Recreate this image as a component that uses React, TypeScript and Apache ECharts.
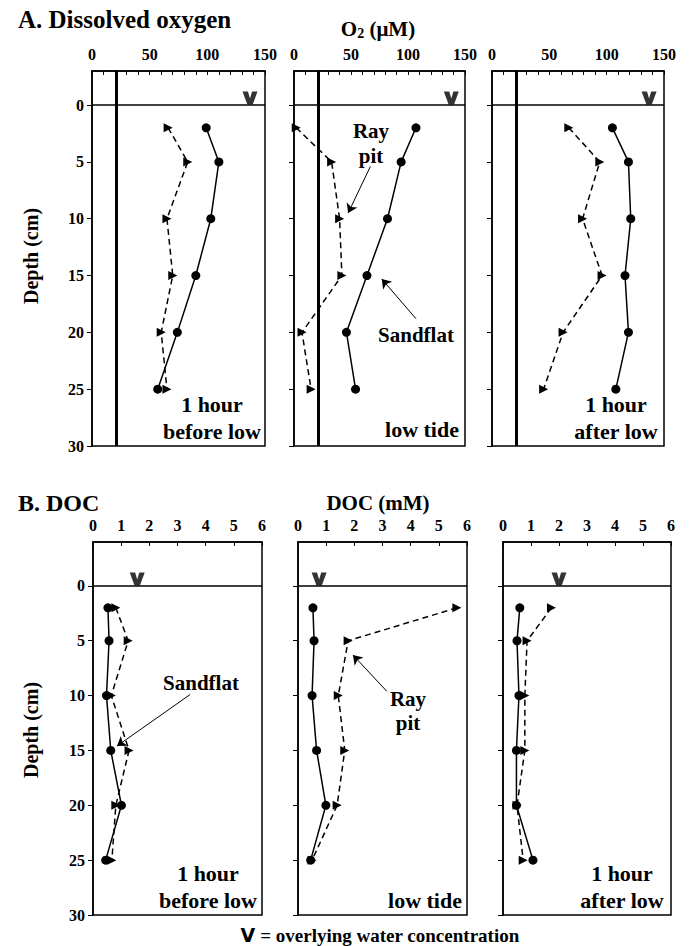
import React, { useEffect, useRef } from 'react';
import * as echarts from 'echarts';

// ---------- data ----------
const depths = [2, 5, 10, 15, 20, 25];
const depthTicks = [0, 5, 10, 15, 20, 25, 30];

// A. Dissolved oxygen (µM)
const o2SandBefore = [99, 110, 103, 90, 74, 57];
const o2RayBefore = [66, 83, 65, 70, 60, 65];
const o2SandLow = [107, 94, 82, 64, 46, 54];
const o2RayLow = [2, 33, 40, 42, 7, 15];
const o2SandAfter = [105, 119, 121, 116, 119, 108];
const o2RayAfter = [67, 94, 79, 96, 62, 45];
const o2Overlying = [137, 138, 137];
const o2Threshold = 21;

// B. DOC (mM)
const docSandBefore = [0.53, 0.57, 0.48, 0.63, 1.01, 0.45];
const docRayBefore = [0.81, 1.25, 0.65, 1.28, 0.81, 0.67];
const docSandLow = [0.53, 0.57, 0.5, 0.66, 0.99, 0.45];
const docRayLow = [5.64, 1.78, 1.43, 1.66, 1.39, 0.5];
const docSandAfter = [0.6, 0.5, 0.57, 0.48, 0.48, 1.07];
const docRayAfter = [1.73, 0.86, 0.78, 0.78, 0.5, 0.72];
const docOverlying = [1.57, 0.75, 2.0];

const panelLabels = ['1 hour\nbefore low', 'low tide', '1 hour\nafter low'];

// ---------- styling ----------
const FONT = '"Liberation Serif", "Times New Roman", serif';
const BLACK = '#000';
const V_PATH = 'path://M0,0 L5.4,0 L7.5,7 L9.6,0 L15,0 L10.2,13 L4.8,13 Z';

export default function App() {
  const ref = useRef<HTMLDivElement>(null);

  useEffect(() => {
    const chart = echarts.init(ref.current!, null, { renderer: 'svg' });

    const grids = [
      { left: 92, top: 71, width: 173, height: 375 },
      { left: 294, top: 71, width: 171, height: 375 },
      { left: 492, top: 71, width: 172, height: 375 },
      { left: 93, top: 542, width: 169, height: 373 },
      { left: 298, top: 542, width: 169, height: 373 },
      { left: 503, top: 542, width: 168, height: 373 },
    ].map((g) => ({ ...g, show: true, borderColor: BLACK, borderWidth: 1.5, backgroundColor: 'transparent' }));

    const tickLabel = { fontFamily: FONT, fontWeight: 'bold' as const, fontSize: 16, color: BLACK };

    const xAxes = grids.map((_, i) => {
      const top = i < 3;
      return {
        gridIndex: i,
        type: 'value',
        position: 'top',
        min: 0,
        max: top ? 150 : 6,
        interval: top ? 50 : 1,
        axisLine: { show: true, onZero: false, lineStyle: { color: BLACK, width: 1.5 } },
        axisTick: { show: true, inside: true, length: 4, lineStyle: { color: BLACK, width: 1 } },
        minorTick: { show: top, splitNumber: 5, length: 4, lineStyle: { color: BLACK, width: 1 } },
        axisLabel: { ...tickLabel, margin: 9, showMinLabel: true, showMaxLabel: true },
        splitLine: { show: false },
        minorSplitLine: { show: false },
      };
    });

    const yAxes = grids.map((_, i) => ({
      gridIndex: i,
      type: 'value',
      inverse: true,
      min: i < 3 ? -3 : -4,
      max: 30,
      axisLine: { show: true, onZero: false, lineStyle: { color: BLACK, width: 1.5 } },
      axisTick: { show: true, inside: false, length: 5, customValues: depthTicks, lineStyle: { color: BLACK, width: 1 } },
      axisLabel: { ...tickLabel, show: i === 0 || i === 3, margin: 8, customValues: depthTicks },
      splitLine: { show: false },
    }));

    const sandSets = [o2SandBefore, o2SandLow, o2SandAfter, docSandBefore, docSandLow, docSandAfter];
    const raySets = [o2RayBefore, o2RayLow, o2RayAfter, docRayBefore, docRayLow, docRayAfter];
    const overSets = [...o2Overlying, ...docOverlying];

    const arrowLine = (pairs: number[][][]) => ({
      silent: true,
      symbol: ['none', 'arrow'],
      symbolSize: 9,
      label: { show: false },
      itemStyle: { color: BLACK },
      lineStyle: { color: BLACK, width: 1, type: 'solid' },
      data: pairs.map(([a, b]) => [{ coord: a }, { coord: b }]),
    });

    const arrowsByPanel: Record<number, number[][][]> = {
      1: [
        [[67, 5.4], [47.5, 9.5]],
        [[107, 18.8], [77, 15.3]],
      ],
      3: [[[3.45, 9.9], [0.85, 14.6]]],
      4: [[[3.15, 9.6], [1.95, 6.3]]],
    };

    const series: any[] = [];
    grids.forEach((_, i) => {
      const refLines: any[] = [{ yAxis: 0, lineStyle: { color: BLACK, width: 1.5, type: 'solid' } }];
      if (i < 3) refLines.push({ xAxis: o2Threshold, lineStyle: { color: BLACK, width: 3, type: 'solid' } });
      series.push({
        type: 'line',
        name: 'Sandflat',
        xAxisIndex: i,
        yAxisIndex: i,
        data: depths.map((d, k) => [sandSets[i][k], d]),
        symbol: 'circle',
        symbolSize: 9,
        lineStyle: { color: BLACK, width: 1.5 },
        itemStyle: { color: BLACK },
        z: 5,
        markLine: {
          silent: true,
          symbol: ['none', 'none'],
          label: { show: false },
          data: refLines,
        },
      });
      series.push({
        type: 'line',
        name: 'Ray pit',
        xAxisIndex: i,
        yAxisIndex: i,
        data: depths.map((d, k) => [raySets[i][k], d]),
        symbol: 'triangle',
        symbolRotate: -90,
        symbolSize: 9,
        lineStyle: { color: BLACK, width: 1.5, type: [6, 4] },
        itemStyle: { color: BLACK },
        z: 4,
      });
      if (arrowsByPanel[i]) {
        series.push({
          type: 'line',
          name: 'annotation',
          xAxisIndex: i,
          yAxisIndex: i,
          data: [],
          markLine: arrowLine(arrowsByPanel[i]),
        });
      }
      series.push({
        type: 'scatter',
        name: 'Overlying',
        xAxisIndex: i,
        yAxisIndex: i,
        data: [[overSets[i], 0]],
        symbol: V_PATH,
        symbolSize: [15, 13],
        symbolOffset: [0, -7],
        itemStyle: { color: BLACK },
        z: 6,
      });
    });

    const txt = (x: number, y: number, text: string, size: number, align: string = 'center', extra: any = {}) => ({
      type: 'text',
      x,
      y,
      style: {
        text,
        fontFamily: FONT,
        fontWeight: 'bold',
        fontSize: size,
        fill: BLACK,
        textAlign: align,
        textVerticalAlign: 'middle',
        lineHeight: size + 5,
        ...extra,
      },
    });

    const graphic: any[] = [
      txt(18, 19, 'A. Dissolved oxygen', 25, 'left'),
      {
        type: 'text',
        x: 378,
        y: 29,
        style: {
          text: 'O{sub|2} (μM)',
          fontFamily: FONT,
          fontWeight: 'bold',
          fontSize: 21,
          fill: BLACK,
          textAlign: 'center',
          textVerticalAlign: 'middle',
          rich: { sub: { fontFamily: FONT, fontWeight: 'bold', fontSize: 14, fill: BLACK, padding: [9, 0, 0, 0] } },
        },
      },
      txt(18, 503, 'B. DOC', 24, 'left'),
      txt(378, 503, 'DOC (mM)', 21),
      { ...txt(31, 256, 'Depth (cm)', 20), rotation: Math.PI / 2 },
      { ...txt(31, 730, 'Depth (cm)', 20), rotation: Math.PI / 2 },
      // top annotations
      txt(371, 131, 'Ray', 21),
      txt(371, 156, 'pit', 21),
      txt(416, 335, 'Sandflat', 21),
      // bottom annotations
      txt(201, 683, 'Sandflat', 21),
      txt(408, 699, 'Ray', 21),
      txt(408, 723, 'pit', 21),
      // panel labels top
      txt(212, 418, panelLabels[0], 22),
      txt(459, 429, panelLabels[1], 22, 'right'),
      txt(616, 418, panelLabels[2], 22),
      // panel labels bottom
      txt(208, 887, panelLabels[0], 22),
      txt(462, 900, panelLabels[1], 22, 'right'),
      txt(622, 887, panelLabels[2], 22),
      // footer
      {
        type: 'text',
        x: 380,
        y: 935,
        style: {
          text: '{v|V} = overlying water concentration',
          fontFamily: FONT,
          fontWeight: 'bold',
          fontSize: 19,
          fill: BLACK,
          textAlign: 'center',
          textVerticalAlign: 'middle',
          rich: { v: { fontFamily: '"DejaVu Sans", sans-serif', fontWeight: 900, fontSize: 19, fill: BLACK } },
        },
      },
    ];

    chart.setOption({
      animation: false,
      backgroundColor: '#fff',
      grid: grids,
      xAxis: xAxes,
      yAxis: yAxes,
      series,
      graphic,
    });

    return () => chart.dispose();
  }, []);

  return (
    <div
      ref={ref}
      style={{ position: 'absolute', left: 0, top: 0, width: 689, height: 946, background: '#fff' }}
    />
  );
}
